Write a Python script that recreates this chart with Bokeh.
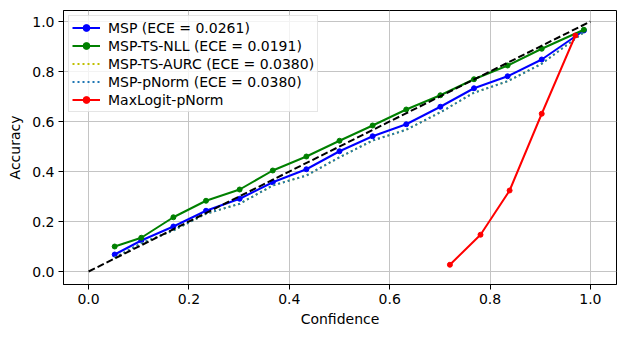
from bokeh.plotting import figure
from bokeh.models import FixedTicker, PrintfTickFormatter, Range1d
from bokeh.embed import file_html
from bokeh.resources import INLINE

# Reliability diagram data: confidence bin positions and accuracy per method
conf_bins = [0.052, 0.105, 0.169, 0.234, 0.301, 0.367, 0.434, 0.500,
             0.566, 0.633, 0.701, 0.768, 0.835, 0.903, 0.987]
acc_msp = [0.068, 0.124, 0.180, 0.243, 0.291, 0.357, 0.409, 0.481,
           0.541, 0.589, 0.659, 0.733, 0.781, 0.848, 0.964]
acc_ts_nll = [0.100, 0.135, 0.217, 0.283, 0.328, 0.404, 0.460, 0.523,
              0.584, 0.648, 0.705, 0.769, 0.824, 0.891, 0.967]
acc_ts_aurc = [0.055, 0.113, 0.164, 0.231, 0.271, 0.344, 0.384, 0.457,
               0.524, 0.567, 0.637, 0.715, 0.761, 0.831, 0.957]
acc_pnorm = [0.055, 0.113, 0.164, 0.231, 0.271, 0.344, 0.384, 0.457,
             0.524, 0.567, 0.637, 0.715, 0.761, 0.831, 0.957]
conf_maxlogit = [0.720, 0.781, 0.839, 0.903, 0.970]
acc_maxlogit = [0.027, 0.147, 0.324, 0.631, 0.944]
diag = [0.0, 1.0]
ticks = [0.0, 0.2, 0.4, 0.6, 0.8, 1.0]

FONT = "DejaVu Sans"
FS = "14px"

p = figure(width=621, height=339, output_backend="svg", toolbar_location=None,
           x_range=Range1d(-0.05, 1.052), y_range=Range1d(-0.052, 1.044),
           min_border_left=63, min_border_right=5, min_border_top=10,
           min_border_bottom=55)

p.background_fill_color = "white"
p.border_fill_color = "white"
p.outline_line_color = "black"
p.outline_line_width = 1

for ax in (p.xaxis[0], p.yaxis[0]):
    ax.ticker = FixedTicker(ticks=ticks)
    ax.formatter = PrintfTickFormatter(format="%.1f")
    ax.major_label_text_font = FONT
    ax.major_label_text_font_size = FS
    ax.major_label_text_color = "black"
    ax.axis_label_text_font = FONT
    ax.axis_label_text_font_size = FS
    ax.axis_label_text_font_style = "normal"
    ax.axis_label_text_color = "black"
    ax.minor_tick_line_color = None
    ax.major_tick_in = 0
    ax.major_tick_out = 5
    ax.major_tick_line_color = "black"
    ax.axis_line_color = "black"
    ax.major_label_standoff = 4

p.xaxis.axis_label = "Confidence"
p.yaxis.axis_label = "Accuracy"
p.xaxis.axis_label_standoff = 4
p.yaxis.axis_label_standoff = 6

p.grid.grid_line_color = "#c4c4c4"
p.grid.grid_line_width = 1

lw = 2
p.line(conf_bins, acc_msp, color="#0000ff", line_width=lw, legend_label="MSP (ECE = 0.0261)")
p.scatter(conf_bins, acc_msp, color="#0000ff", size=5, legend_label="MSP (ECE = 0.0261)")

p.line(conf_bins, acc_ts_nll, color="#008000", line_width=lw, legend_label="MSP-TS-NLL (ECE = 0.0191)")
p.scatter(conf_bins, acc_ts_nll, color="#008000", size=5, legend_label="MSP-TS-NLL (ECE = 0.0191)")

p.line(conf_bins, acc_ts_aurc, color="#bfbf00", line_width=lw, line_dash="2 3",
       legend_label="MSP-TS-AURC (ECE = 0.0380)")
p.line(conf_bins, acc_pnorm, color="#1f77b4", line_width=lw, line_dash="2 3",
       legend_label="MSP-pNorm (ECE = 0.0380)")

p.line(conf_maxlogit, acc_maxlogit, color="#ff0000", line_width=lw, legend_label="MaxLogit-pNorm")
p.scatter(conf_maxlogit, acc_maxlogit, color="#ff0000", size=5, legend_label="MaxLogit-pNorm")

# perfect calibration reference
p.line(diag, diag, color="black", line_width=lw, line_dash="7 3")

lg = p.legend[0]
lg.location = "top_left"
lg.margin = 5
lg.padding = 3
lg.spacing = 1
lg.label_height = 17
lg.glyph_height = 17
lg.glyph_width = 28
lg.label_standoff = 8
lg.label_text_font = FONT
lg.label_text_font_size = FS
lg.label_text_color = "black"
lg.border_line_color = "#cccccc"
lg.border_line_width = 1
lg.background_fill_alpha = 0.8

open("out.html", "w").write(file_html(p, INLINE))
